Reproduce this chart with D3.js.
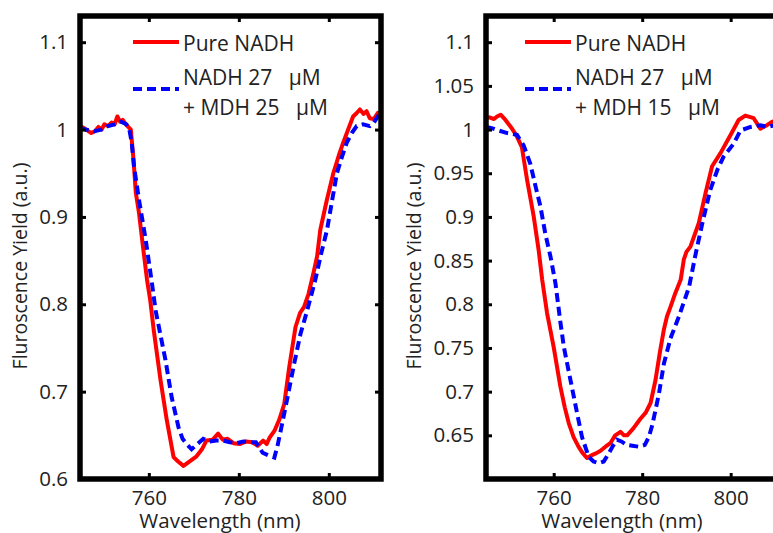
<!DOCTYPE html>
<html><head><meta charset="utf-8">
<script src="https://cdn.jsdelivr.net/npm/d3@7"></script>
<style>
html,body{margin:0;padding:0;background:#fff;overflow:hidden}
svg{display:block}
text{font-family:"Open Sans",sans-serif;fill:#222}
</style></head><body>
<svg id="chart" width="773" height="533"></svg>
<script>
// ---------- data ----------
const xDomain = [744.7, 811.6];
const yDomain = [0.6, 1.13];
const xTicks = [760, 780, 800];
const leftYTicks = [0.6, 0.7, 0.8, 0.9, 1.0, 1.1];
const leftYTickLabels = ["0.6", "0.7", "0.8", "0.9", "1", "1.1"];
const rightYTicks = [0.65, 0.7, 0.75, 0.8, 0.85, 0.9, 0.95, 1.0, 1.05, 1.1];
const rightYTickLabels = ["0.65", "0.7", "0.75", "0.8", "0.85", "0.9", "0.95", "1", "1.05", "1.1"];

const seriesNames = ["Pure NADH", "NADH 27   \u00b5M", "+ MDH 25   \u00b5M", "+ MDH 15   \u00b5M"];

// Left panel: Pure NADH
const leftPureX = [744.7, 745.5, 746.3, 747.2, 748.0, 748.8, 749.5, 750.1, 750.9, 751.7, 752.4, 753.0, 753.6, 754.2, 754.9, 756.0, 756.6, 757.1, 757.8, 758.6, 759.6, 760.3, 761.1, 762.6, 764.0, 765.5, 766.5, 767.7, 769.0, 770.6, 771.8, 772.8, 774.2, 775.4, 776.4, 777.5, 778.8, 780.2, 781.6, 783.0, 784.2, 785.4, 786.2, 786.8, 787.9, 789.0, 790.1, 791.2, 792.6, 793.6, 794.5, 795.5, 796.6, 797.4, 798.1, 799.5, 801.0, 802.2, 803.2, 804.3, 805.4, 806.2, 806.9, 807.7, 808.4, 809.1, 810.0, 810.9, 811.6];
const leftPureY = [1.004, 1.002, 0.999, 0.996, 0.998, 1.003, 1.000, 1.006, 1.004, 1.008, 1.006, 1.015, 1.009, 1.011, 1.006, 1.000, 0.965, 0.928, 0.905, 0.870, 0.828, 0.805, 0.770, 0.713, 0.667, 0.625, 0.620, 0.615, 0.620, 0.626, 0.634, 0.644, 0.645, 0.652, 0.645, 0.646, 0.641, 0.640, 0.643, 0.642, 0.638, 0.644, 0.640, 0.647, 0.655, 0.668, 0.686, 0.728, 0.774, 0.790, 0.797, 0.812, 0.836, 0.855, 0.885, 0.918, 0.950, 0.970, 0.985, 1.000, 1.015, 1.019, 1.023, 1.018, 1.021, 1.013, 1.012, 1.019, 1.016];

// Left panel: NADH 27 uM + MDH 25 uM
const leftMdhX = [744.7, 746.0, 747.9, 749.4, 750.9, 752.4, 753.8, 755.0, 755.6, 756.2, 756.7, 757.8, 759.3, 760.8, 761.5, 763.7, 765.1, 766.6, 767.5, 768.4, 769.5, 770.8, 772.1, 773.5, 775.0, 776.5, 778.0, 779.5, 781.0, 782.5, 783.8, 785.3, 786.6, 787.9, 788.6, 789.3, 790.8, 792.3, 793.7, 795.2, 796.6, 797.0, 798.3, 799.6, 800.7, 801.8, 803.0, 804.0, 805.1, 806.2, 807.6, 809.1, 810.0, 810.9, 811.6];
const leftMdhY = [1.002, 1.000, 0.998, 1.000, 1.004, 1.006, 1.009, 1.006, 1.002, 0.985, 0.958, 0.920, 0.874, 0.820, 0.793, 0.736, 0.693, 0.659, 0.646, 0.640, 0.634, 0.640, 0.646, 0.643, 0.644, 0.644, 0.642, 0.641, 0.643, 0.642, 0.642, 0.630, 0.627, 0.6245, 0.638, 0.655, 0.693, 0.732, 0.766, 0.793, 0.820, 0.828, 0.858, 0.885, 0.918, 0.950, 0.970, 0.985, 0.996, 1.004, 1.006, 1.004, 1.008, 1.015, 1.013];

// Right panel: Pure NADH
const rightPureX = [744.7, 745.5, 746.5, 747.2, 748.0, 749.1, 750.6, 751.7, 752.8, 754.0, 755.5, 756.6, 757.4, 758.5, 760.0, 761.5, 762.5, 763.4, 764.5, 765.6, 766.5, 767.5, 768.5, 769.4, 770.5, 771.7, 772.8, 773.9, 775.1, 775.9, 776.6, 778.0, 779.6, 780.8, 781.9, 783.0, 784.0, 784.9, 785.6, 786.4, 787.5, 788.7, 789.4, 790.0, 790.9, 792.8, 794.3, 795.8, 797.7, 800.0, 801.8, 803.3, 805.2, 806.7, 808.2, 809.4, 810.5, 811.6];
const rightPureY = [1.013, 1.014, 1.012, 1.015, 1.017, 1.011, 1.001, 0.992, 0.980, 0.942, 0.900, 0.862, 0.828, 0.790, 0.751, 0.706, 0.682, 0.664, 0.648, 0.637, 0.630, 0.624, 0.627, 0.629, 0.632, 0.637, 0.641, 0.650, 0.654, 0.650, 0.650, 0.658, 0.669, 0.676, 0.687, 0.713, 0.745, 0.771, 0.786, 0.797, 0.813, 0.828, 0.851, 0.860, 0.866, 0.893, 0.927, 0.958, 0.973, 0.994, 1.011, 1.016, 1.013, 1.001, 1.005, 1.009, 1.010, 1.012];

// Right panel: NADH 27 uM + MDH 15 uM
const rightMdhX = [744.7, 745.8, 747.2, 749.5, 751.7, 753.2, 754.7, 755.9, 757.0, 758.1, 759.3, 760.4, 761.5, 762.3, 763.8, 765.3, 766.4, 767.9, 769.0, 770.2, 771.3, 772.4, 773.4, 774.3, 775.3, 776.5, 777.8, 779.2, 780.6, 781.5, 782.3, 783.8, 784.9, 786.4, 788.3, 790.6, 792.1, 793.6, 795.4, 797.0, 798.4, 800.7, 802.2, 804.5, 806.7, 808.2, 810.0, 811.6];
const rightMdhY = [1.003, 1.002, 0.9995, 0.996, 0.994, 0.982, 0.961, 0.935, 0.912, 0.881, 0.854, 0.824, 0.780, 0.751, 0.713, 0.675, 0.648, 0.6255, 0.620, 0.618, 0.620, 0.629, 0.638, 0.645, 0.643, 0.639, 0.638, 0.637, 0.639, 0.648, 0.662, 0.698, 0.732, 0.761, 0.786, 0.820, 0.858, 0.893, 0.931, 0.954, 0.969, 0.984, 0.999, 1.003, 1.005, 1.003, 1.005, 1.006];

// ---------- drawing ----------
const svg = d3.select("#chart");
const RED = "#ff0000", BLUE = "#0000ff";
const LW = 4;

function panel(opt) {
  const x = d3.scaleLinear().domain(xDomain).range([opt.left, opt.right]);
  const y = d3.scaleLinear().domain(yDomain).range([opt.bottom, opt.top]);
  const g = svg.append("g");

  const line = d3.line().x(d => x(d[0])).y(d => y(d[1]));
  const pure = d3.zip(opt.pureX, opt.pureY);
  const mdh = d3.zip(opt.mdhX, opt.mdhY);

  g.append("path").datum(pure).attr("d", line)
    .attr("fill", "none").attr("stroke", RED).attr("stroke-width", LW)
    .attr("stroke-linejoin", "round");
  g.append("path").datum(mdh).attr("d", line)
    .attr("fill", "none").attr("stroke", BLUE).attr("stroke-width", LW)
    .attr("stroke-dasharray", "9,5");

  // axes with inward ticks
  const ax = [
    g.append("g").attr("transform", `translate(0,${opt.bottom})`)
      .call(d3.axisBottom(x).tickValues(xTicks).tickFormat(d3.format("d")).tickSize(-6).tickPadding(11)),
    g.append("g").attr("transform", `translate(0,${opt.top})`)
      .call(d3.axisTop(x).tickValues(xTicks).tickFormat("").tickSize(-6)),
    g.append("g").attr("transform", `translate(${opt.left},0)`)
      .call(d3.axisLeft(y).tickValues(opt.yTicks).tickFormat((d, i) => opt.yLabels[i]).tickSize(-6).tickPadding(12)),
    g.append("g").attr("transform", `translate(${opt.right},0)`)
      .call(d3.axisRight(y).tickValues(opt.yTicks).tickFormat("").tickSize(-6))
  ];
  ax.forEach(a => {
    a.select(".domain").remove();
    a.selectAll(".tick line").attr("stroke", "#000").attr("stroke-width", 3);
    a.selectAll(".tick text").style("font-family", "'Open Sans',sans-serif")
      .style("font-size", "20.5px").attr("fill", "#222");
  });

  // thick frame
  g.append("rect").attr("x", opt.left).attr("y", opt.top)
    .attr("width", opt.right - opt.left).attr("height", opt.bottom - opt.top)
    .attr("fill", "none").attr("stroke", "#000").attr("stroke-width", 5.5);

  // axis titles
  g.append("text").attr("x", opt.xLabelX).attr("y", 528)
    .attr("text-anchor", "middle").style("font-size", "20.5px").text("Wavelength (nm)");
  g.append("text").attr("transform", `translate(${opt.yLabelX},${opt.yLabelY}) rotate(-90)`)
    .attr("text-anchor", "middle").attr("dominant-baseline", "central")
    .style("font-size", "19.5px").text("Fluroscence Yield (a.u.)");

  // legend
  const lx = opt.legendX;
  g.append("line").attr("x1", lx).attr("x2", lx + 46).attr("y1", 42).attr("y2", 42)
    .attr("stroke", RED).attr("stroke-width", LW);
  g.append("line").attr("x1", lx).attr("x2", lx + 46).attr("y1", 89).attr("y2", 89)
    .attr("stroke", BLUE).attr("stroke-width", LW).attr("stroke-dasharray", "9,5");
  const tx = lx + 50;
  [[seriesNames[0], 43], [seriesNames[1], 77], [opt.secondName, 107]].forEach(([t, ty]) => {
    g.append("text").attr("x", tx).attr("y", ty).attr("dominant-baseline", "central")
      .style("font-size", "21px").style("white-space", "pre").attr("xml:space", "preserve").text(t);
  });
}

panel({
  left: 80, right: 381, top: 16, bottom: 479,
  pureX: leftPureX, pureY: leftPureY, mdhX: leftMdhX, mdhY: leftMdhY,
  yTicks: leftYTicks, yLabels: leftYTickLabels,
  xLabelX: 220, yLabelX: 19, yLabelY: 266,
  legendX: 133, secondName: seriesNames[2]
});
panel({
  left: 486, right: 782, top: 16, bottom: 479,
  pureX: rightPureX, pureY: rightPureY, mdhX: rightMdhX, mdhY: rightMdhY,
  yTicks: rightYTicks, yLabels: rightYTickLabels,
  xLabelX: 622, yLabelX: 413, yLabelY: 266,
  legendX: 525, secondName: seriesNames[3]
});
</script>
</body></html>
